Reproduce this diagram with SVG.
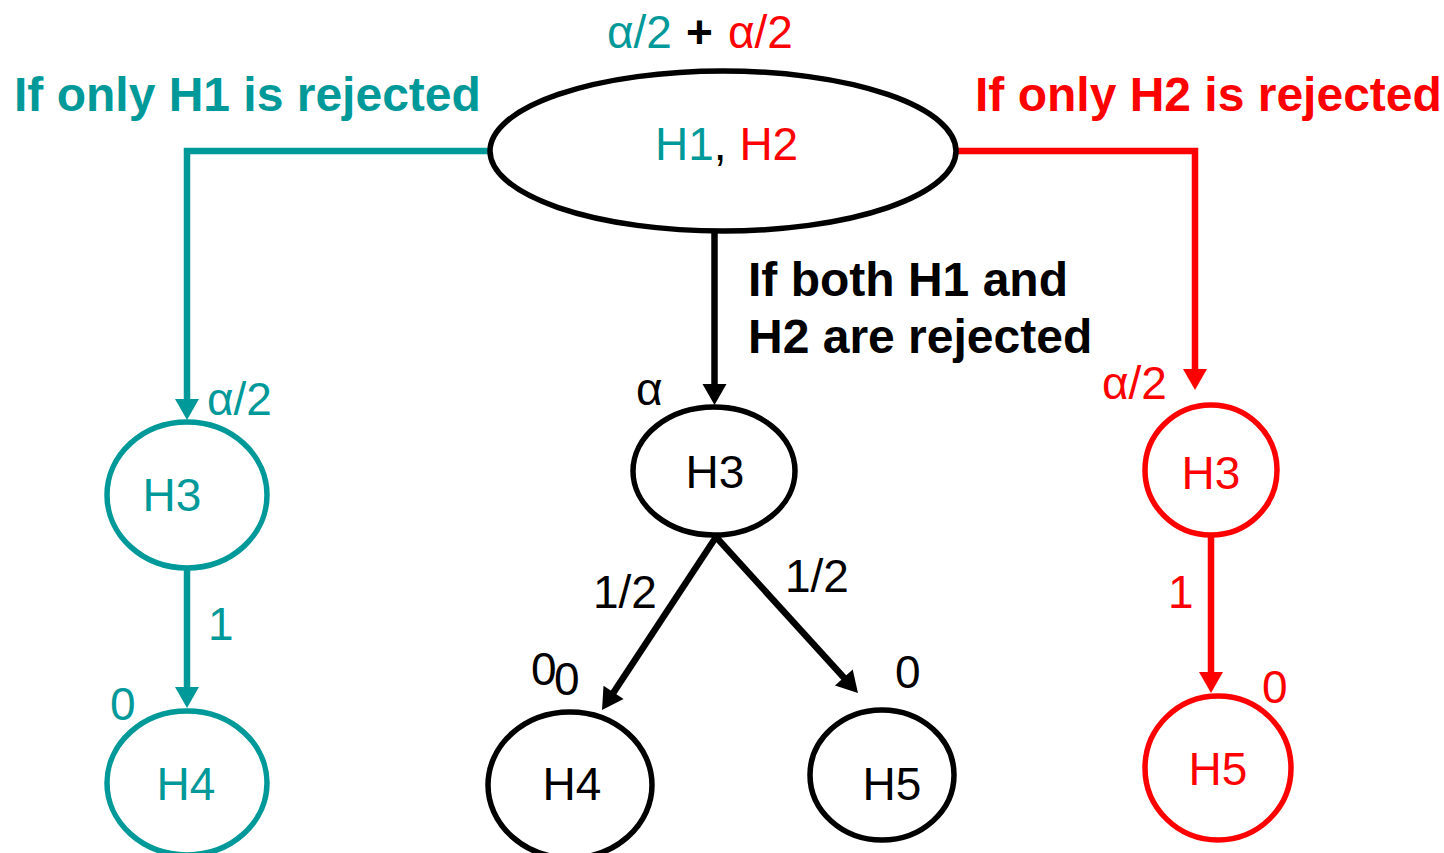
<svg xmlns="http://www.w3.org/2000/svg" width="1444" height="853" viewBox="0 0 1444 853">
  <style>
    .t { font-family: "Liberation Sans", Arial, sans-serif; font-size: 46px; }
    .b { font-family: "Liberation Sans", Arial, sans-serif; font-size: 48px; font-weight: bold; }
    .teal { fill: #009999; }
    .red { fill: #FF0000; }
    .blk { fill: #000000; }
    .mid { text-anchor: middle; }
    .node { fill: #FFFFFF; stroke-width: 5.5; }
    .edge { fill: none; stroke-width: 6.5; stroke-linejoin: miter; }
  </style>
  <defs>
    <marker id="arrow-teal" markerUnits="userSpaceOnUse" markerWidth="26" markerHeight="26" refX="5" refY="12" orient="auto" overflow="visible">
      <path d="M0,0 L21,12 L0,24 z" fill="#009999"/>
    </marker>
    <marker id="arrow-red" markerUnits="userSpaceOnUse" markerWidth="26" markerHeight="26" refX="5" refY="12" orient="auto" overflow="visible">
      <path d="M0,0 L21,12 L0,24 z" fill="#FF0000"/>
    </marker>
    <marker id="arrow-black" markerUnits="userSpaceOnUse" markerWidth="26" markerHeight="26" refX="5" refY="12" orient="auto" overflow="visible">
      <path d="M0,0 L21,12 L0,24 z" fill="#000000"/>
    </marker>
  </defs>

  <rect width="1444" height="853" fill="#FFFFFF"/>

  <!-- connectors -->
  <g id="connectors">
    <path class="edge" stroke="#009999" d="M490,151 H187 V404" marker-end="url(#arrow-teal)"/>
    <path class="edge" stroke="#009999" d="M187,568 V692" marker-end="url(#arrow-teal)"/>
    <path class="edge" stroke="#FF0000" d="M957,151 H1195 V374" marker-end="url(#arrow-red)"/>
    <path class="edge" stroke="#FF0000" d="M1211,535 V677" marker-end="url(#arrow-red)"/>
    <path class="edge" stroke="#000000" d="M714.5,232 V389" marker-end="url(#arrow-black)"/>
    <path class="edge" stroke="#000000" d="M716,537 L610.8,696.6" marker-end="url(#arrow-black)"/>
    <path class="edge" stroke="#000000" d="M716,537 L847.2,681.2" marker-end="url(#arrow-black)"/>
  </g>

  <!-- edge labels and weights -->
  <g id="labels">
    <text class="t teal" x="607" y="48">α/2</text>
    <text class="t blk" x="686" y="48" font-weight="bold">+</text>
    <text class="t red" x="728" y="48">α/2</text>
    <text class="b teal" x="14" y="111">If only H1 is rejected</text>
    <text class="b red" x="975" y="111">If only H2 is rejected</text>
    <text class="b blk" x="748" y="296">If both H1 and</text>
    <text class="b blk" x="748" y="353">H2 are rejected</text>

    <text class="t teal" x="207" y="415">α/2</text>
    <text class="t teal" x="208" y="640">1</text>
    <text class="t teal" x="110" y="720">0</text>

    <text class="t blk" x="636" y="405">α</text>
    <text class="t blk" x="593" y="608">1/2</text>
    <text class="t blk" x="785" y="592">1/2</text>
    <text class="t blk" x="531" y="685">0</text>
    <text class="t blk" x="554" y="695">0</text>
    <text class="t blk" x="895" y="688">0</text>

    <text class="t red" x="1102" y="399">α/2</text>
    <text class="t red" x="1168" y="608">1</text>
    <text class="t red" x="1262" y="703">0</text>
  </g>

  <!-- nodes -->
  <g id="node-h1h2">
    <ellipse class="node" stroke="#000000" cx="723" cy="151" rx="233" ry="80"/>
    <text class="t" x="655" y="160"><tspan class="teal">H1</tspan><tspan class="blk">, </tspan><tspan class="red">H2</tspan></text>
  </g>

  <g id="node-h3-left">
    <ellipse class="node" stroke="#009999" cx="187" cy="495" rx="80" ry="73"/>
    <text class="t teal mid" x="172" y="511">H3</text>
  </g>
  <g id="node-h4-left">
    <ellipse class="node" stroke="#009999" cx="187" cy="783" rx="80" ry="72"/>
    <text class="t teal mid" x="186" y="800">H4</text>
  </g>

  <g id="node-h3-mid">
    <ellipse class="node" stroke="#000000" cx="714" cy="471" rx="81" ry="64"/>
    <text class="t blk mid" x="715" y="488">H3</text>
  </g>
  <g id="node-h4-mid">
    <ellipse class="node" stroke="#000000" cx="570" cy="785" rx="82" ry="73"/>
    <text class="t blk mid" x="572" y="800">H4</text>
  </g>
  <g id="node-h5-mid">
    <ellipse class="node" stroke="#000000" cx="882" cy="775" rx="72" ry="65"/>
    <text class="t blk mid" x="892" y="800">H5</text>
  </g>

  <g id="node-h3-right">
    <ellipse class="node" stroke="#FF0000" cx="1211" cy="470" rx="66" ry="65"/>
    <text class="t red mid" x="1211" y="489">H3</text>
  </g>
  <g id="node-h5-right">
    <ellipse class="node" stroke="#FF0000" cx="1218" cy="768" rx="73" ry="72"/>
    <text class="t red mid" x="1218" y="785">H5</text>
  </g>
</svg>
